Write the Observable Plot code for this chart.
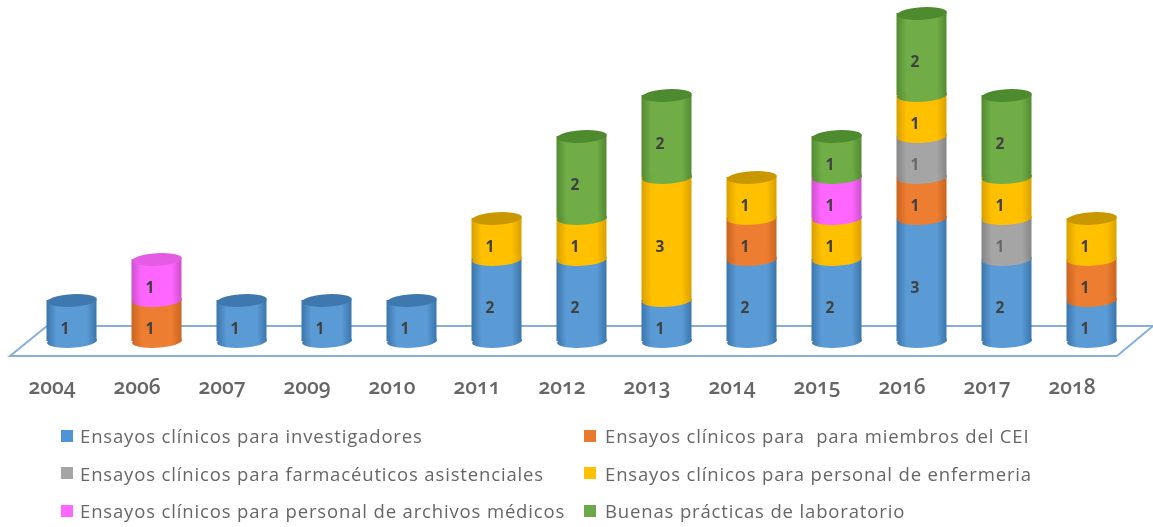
<!DOCTYPE html>
<html lang="es"><head><meta charset="utf-8">
<script src="https://cdn.jsdelivr.net/npm/d3@7"></script>
<script src="https://cdn.jsdelivr.net/npm/@observablehq/plot@0.6"></script>
<style>
html,body{margin:0;padding:0;background:#fff;overflow:hidden}
#chart svg{display:block;filter:blur(.5px)}
#chart svg g[aria-label="x-axis tick label"] text{font-variant-numeric:oldstyle-nums;font-feature-settings:"onum" 1}
#legend{display:grid;grid-template-columns:523px 1fr;grid-auto-rows:37.5px;padding:2px 0 0 61px;font:18.5px "Open Sans",sans-serif;color:#666;filter:blur(.4px);letter-spacing:.85px;white-space:pre}
#legend div{display:flex;align-items:center}
#legend i{display:inline-block;width:12px;height:12px;margin-right:7px;flex:none}
#legend div:nth-child(even) i{margin-right:9px}
</style></head><body>
<div id="chart"></div><div id="legend"></div>
<script>
const years = ["2004","2006","2007","2009","2010","2011","2012","2013","2014","2015","2016","2017","2018"];
const seriesNames = ["Ensayos clínicos para investigadores","Ensayos clínicos para  para miembros del CEI","Ensayos clínicos para farmacéuticos asistenciales","Ensayos clínicos para personal de enfermeria","Ensayos clínicos para personal de archivos médicos","Buenas prácticas de laboratorio"];
const investigadores = [1,0,1,1,1,2,2,1,2,2,3,2,1];
const miembrosCEI    = [0,1,0,0,0,0,0,0,1,0,1,0,1];
const farmaceuticos  = [0,0,0,0,0,0,0,0,0,0,1,1,0];
const enfermeria     = [0,0,0,0,0,1,1,3,1,1,1,1,1];
const archivos       = [0,1,0,0,0,0,0,0,0,1,0,0,0];
const laboratorio    = [0,0,0,0,0,0,2,2,0,1,2,2,0];
const allSeries = [investigadores,miembrosCEI,farmaceuticos,enfermeria,archivos,laboratorio];
const mainColors = ["#5B9BD5","#ED7D31","#A5A5A5","#FFC000","#FF66FF","#70AD47"];
const edgeColors = ["#3B75AC","#C9641F","#858585","#D9A000","#CC4FCC","#538A30"];
const topColors  = ["#3F78AE","#C5621E","#848484","#C99700","#E45CE4","#4E8A2E"];
const legendSwatch = ["#4F94D4","#E8792F","#A5A5A5","#FFC000","#FF66FF","#6AA84A"];

const rows = [];
years.forEach((year,i)=>{
  let base = 0;
  allSeries.forEach((s,k)=>{
    if(!s[i]) return;
    rows.push({year,k,value:s[i],base,top:base+s[i]});
    base += s[i];
  });
  rows.filter(r=>r.year===year).at(-1).last = true;
});

// Cylinder caps: an ellipse symbol, slightly tilted as in the 3D perspective
const capSymbol = {draw(ctx,size){
  const rx=Math.sqrt(size/Math.PI), ry=rx*0.25, t=-0.06, n=28;
  for(let a=0;a<=n;a++){
    const th=a/n*2*Math.PI, ex=rx*Math.cos(th), ey=ry*Math.sin(th);
    const px=ex*Math.cos(t)-ey*Math.sin(t), py=ex*Math.sin(t)+ey*Math.cos(t);
    a?ctx.lineTo(px,py):ctx.moveTo(px,py);
  }
  ctx.closePath();
}};

const floor = (index,{y},values,{width})=>{
  const y0=y(0);
  return d3.create("svg:path")
    .attr("d",`M${width-36},${y0+15}L10,${y0+15}L47,${y0-15}L${width},${y0-15}L${width-36},${y0+15}`)
    .attr("fill","none").attr("stroke","#85AEDB").attr("stroke-width",2).node();
};

const chart = Plot.plot({
  width:1153,height:415,marginTop:13,marginBottom:74,marginLeft:28.5,marginRight:18.5,
  x:{domain:years,padding:0,label:null},
  y:{domain:[0,8],axis:null},
  color:{type:"identity"},
  style:{background:"#fff"},
  marks:[
    floor,
    Plot.axisX({tickSize:0,tickPadding:38,fontSize:21,dx:-20,label:null,fontFamily:"'Open Sans',sans-serif",fontWeight:600,fill:"#666",letterSpacing:1.6}),
    Plot.barY(rows,{x:"year",y1:"base",y2:"top",insetLeft:17.5,insetRight:17.5,fill:d=>`url(#cyl${d.k})`}),
    Plot.dot(rows,{x:"year",y:"base",r:25,symbol:capSymbol,fill:d=>`url(#cyl${d.k})`}),
    Plot.dot(rows.filter(d=>d.last),{x:"year",y:"top",r:25,symbol:capSymbol,fill:d=>topColors[d.k]}),
    Plot.text(rows,{x:"year",y:d=>(d.base+d.top)/2,text:"value",dy:8,dx:-7,fontSize:15.5,fontFamily:"'Open Sans',sans-serif",fontWeight:700,fill:d=>d.k===2?"#6a6a6a":"#404040"})
  ]
});
const defs=d3.select(chart).insert("defs",":first-child");
mainColors.forEach((c,k)=>{
  const g=defs.append("linearGradient").attr("id",`cyl${k}`).attr("x1",0).attr("x2",1).attr("y1",0).attr("y2",0);
  [[0,edgeColors[k]],[.2,c],[.8,c],[1,edgeColors[k]]].forEach(([o,col])=>g.append("stop").attr("offset",o).attr("stop-color",col));
});
document.getElementById("chart").append(chart);
const lg=d3.select("#legend");
seriesNames.forEach((n,k)=>{
  const d=lg.append("div");
  d.append("i").style("background",legendSwatch[k]);
  d.append("span").text(n);
});
</script></body></html>
